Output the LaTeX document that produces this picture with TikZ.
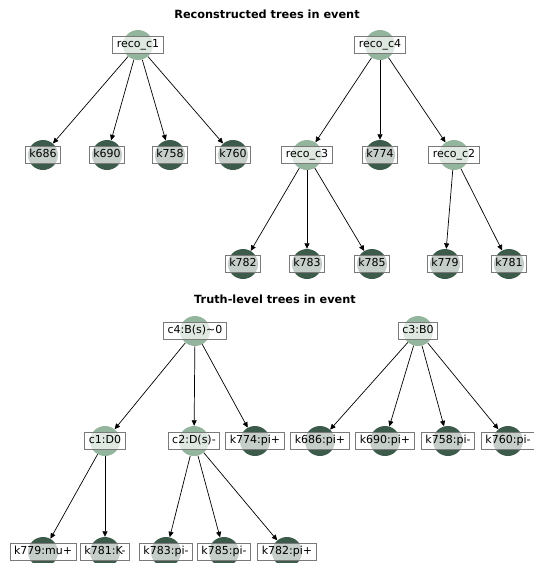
\documentclass[tikz,border=0pt]{standalone}
\usepackage{fontspec}
\setmainfont{DejaVu Sans}
\usetikzlibrary{arrows.meta,backgrounds}
\definecolor{innerc}{HTML}{93B49D}
\definecolor{leafc}{HTML}{3D5B4A}
\definecolor{boxedge}{HTML}{7A7A7A}
\tikzset{
  dot/.style={circle,inner sep=0pt,minimum size=30pt,draw=none},
  innerdot/.style={dot,fill=innerc},
  leafdot/.style={dot,fill=leafc},
  lbl/.style={draw=boxedge,line width=0.8pt,fill=white,fill opacity=0.7,text opacity=1,
    font=\fontsize{11}{13}\selectfont,inner xsep=4pt,inner ysep=3pt,text height=8.3pt,text depth=2.5pt},
  edge/.style={draw=black,line width=0.7pt,-{Triangle[length=5.5pt,width=5pt]}},
  ttl/.style={font=\fontsize{11.3}{13}\selectfont\bfseries,inner sep=0pt}
}
\newcommand\tnode[4]{\node[#3] (#1) at (#2) {}; \node[lbl] (#1-l) at (#2) {#4};}
\begin{document}
\begin{tikzpicture}[x=1pt,y=-1pt]
\clip (0,0) rectangle (534,563);
\useasboundingbox (0,0) rectangle (534,563);
% titles
\node[ttl] (title1) at (267,14) {Reconstructed trees in event};
\node[ttl] (title2) at (275,299) {Truth-level trees in event};
% reconstructed trees
\tnode{rc1}{138,45}{innerdot}{reco\_c1}
\tnode{rc4}{380,45}{innerdot}{reco\_c4}
\tnode{r686}{43,155}{leafdot}{k686}
\tnode{r690}{107,155}{leafdot}{k690}
\tnode{r758}{170,155}{leafdot}{k758}
\tnode{r760}{233,155}{leafdot}{k760}
\tnode{rc3}{307,155}{innerdot}{reco\_c3}
\tnode{r774}{380,155}{leafdot}{k774}
\tnode{rc2}{454,155}{innerdot}{reco\_c2}
\tnode{r782}{243,264}{leafdot}{k782}
\tnode{r783}{307,264}{leafdot}{k783}
\tnode{r785}{372,264}{leafdot}{k785}
\tnode{r779}{445,264}{leafdot}{k779}
\tnode{r781}{509,264}{leafdot}{k781}
% truth-level trees
\tnode{tc4}{195,331}{innerdot}{c4:B(s)\textasciitilde0}
\tnode{tc3}{418,331}{innerdot}{c3:B0}
\tnode{tc1}{105,441}{innerdot}{c1:D0}
\tnode{tc2}{194,441}{innerdot}{c2:D(s)-}
\tnode{t774}{255,441}{leafdot}{k774:pi+}
\tnode{t686}{320,441}{leafdot}{k686:pi+}
\tnode{t690}{385,441}{leafdot}{k690:pi+}
\tnode{t758}{448,441}{leafdot}{k758:pi-}
\tnode{t760}{508,441}{leafdot}{k760:pi-}
\tnode{t779}{43,552}{leafdot}{k779:mu+}
\tnode{t781}{105,552}{leafdot}{k781:K-}
\tnode{t783}{166,552}{leafdot}{k783:pi-}
\tnode{t785}{224,552}{leafdot}{k785:pi-}
\tnode{t782}{287,552}{leafdot}{k782:pi+}
\begin{scope}[on background layer]
\fill[white] (0,0) rectangle (534,563);
\draw[edge] (rc1) -- (r686);
\draw[edge] (rc1) -- (r690);
\draw[edge] (rc1) -- (r758);
\draw[edge] (rc1) -- (r760);
\draw[edge] (rc4) -- (rc3);
\draw[edge] (rc4) -- (r774);
\draw[edge] (rc4) -- (rc2);
\draw[edge] (rc3) -- (r782);
\draw[edge] (rc3) -- (r783);
\draw[edge] (rc3) -- (r785);
\draw[edge] (rc2) -- (r779);
\draw[edge] (rc2) -- (r781);
\draw[edge] (tc4) -- (tc1);
\draw[edge] (tc4) -- (tc2);
\draw[edge] (tc4) -- (t774);
\draw[edge] (tc3) -- (t686);
\draw[edge] (tc3) -- (t690);
\draw[edge] (tc3) -- (t758);
\draw[edge] (tc3) -- (t760);
\draw[edge] (tc1) -- (t779);
\draw[edge] (tc1) -- (t781);
\draw[edge] (tc2) -- (t783);
\draw[edge] (tc2) -- (t785);
\draw[edge] (tc2) -- (t782);
\end{scope}
\end{tikzpicture}
\end{document}
